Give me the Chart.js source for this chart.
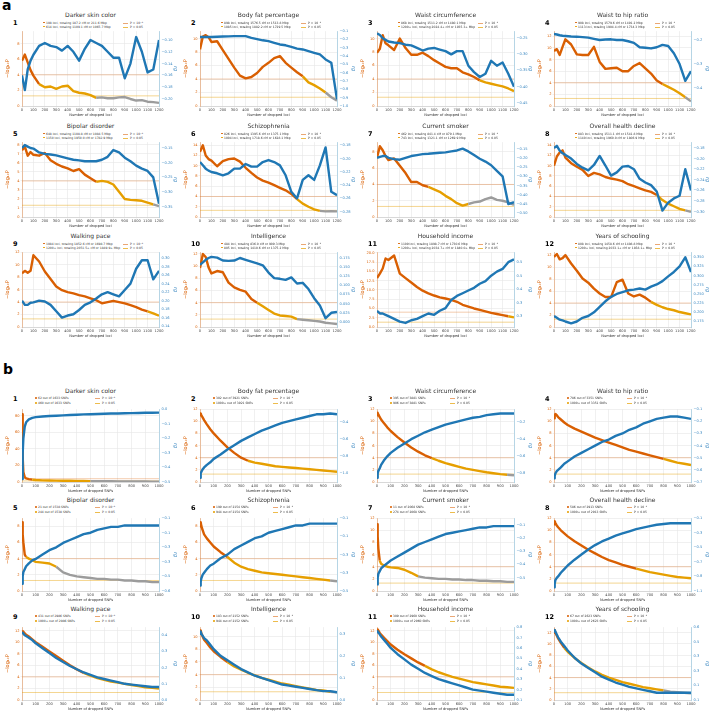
<!DOCTYPE html>
<html>
<head>
<title>Dropped loci / SNPs</title>
<script src="https://cdn.jsdelivr.net/npm/chart.js"></script>
<style>
  body { margin: 0; width: 711px; height: 715px; background: #fff; position: relative; overflow: hidden;
         font-family: "DejaVu Sans", sans-serif; color: #333; }
  div { position: absolute; white-space: nowrap; }
  .big { font-weight: bold; font-size: 14px; color: #000; }
  .num { font-weight: bold; font-size: 6.5px; color: #000; line-height: 7px; }
  .ttl { font-size: 6px; line-height: 6px; text-align: center; color: #333; }
  .leg { font-size: 3px; line-height: 4px; color: #333; }
  .dot { width: 1.8px; height: 1.8px; border-radius: 50%; }
  .ln { width: 5px; height: 0; }
  canvas { position: absolute; }
</style>
</head>
<body>
<div class="big" style="left:2px;top:-3px">a</div>
<div class="big" style="left:3px;top:361px">b</div>
<script>
const xLoci = [0,25,50,75,100,150,200,250,300,350,400,450,500,550,600,650,700,750,800,850,900,950,1000,1050,1100,1150,1200];
const xSnps = [0,5,10,20,30,50,75,100,150,200,250,300,350,400,450,500,550,600,650,700,750,800,850,900,950,1000];

const titles = ['Darker skin color','Body fat percentage','Waist circumference','Waist to hip ratio',
  'Bipolar disorder','Schizophrenia','Current smoker','Overall health decline',
  'Walking pace','Intelligence','Household income','Years of schooling'];

// ---- a: dropped loci, -log10 P ----
const a1P = [5.8,6.6,5.6,4.6,3.9,2.8,2.4,2.5,2.2,2.5,2.6,1.9,1.7,1.6,1.4,1.05,1.1,1.0,1.0,1.1,1.15,0.9,0.7,0.75,0.55,0.5,0.4];
const a2P = [8.4,10.3,10.5,10.2,9.5,9.6,8.3,7.0,5.7,4.5,4.1,4.3,4.9,5.8,6.4,7.1,7.4,6.4,5.7,5.0,4.4,3.5,3.1,2.6,2.0,1.3,0.8];
const a3P = [7.9,8.5,10.5,9.3,9.0,8.3,10.0,8.6,7.6,7.6,7.9,7.4,6.8,6.3,5.8,5.6,5.6,5.0,4.7,4.3,3.8,3.5,3.3,3.1,2.9,2.6,2.2];
const a4P = [9.5,9.8,8.8,10.2,11.5,10.6,8.9,8.8,8.8,10.2,7.6,6.4,6.5,6.6,6.0,6.0,6.9,7.4,6.5,5.6,4.4,3.8,3.3,2.8,2.2,1.5,0.8];
const a5P = [7.4,7.8,6.8,7.2,6.9,6.8,7.1,6.3,5.9,5.6,5.4,5.1,5.3,4.7,4.3,3.9,4.0,3.9,3.6,2.8,2.0,1.9,1.85,1.8,1.6,1.4,1.2];
const a6P = [12.7,14.0,12.0,11.3,11.0,9.9,10.9,11.3,11.4,10.8,9.6,8.6,7.7,7.1,6.7,6.2,5.7,5.2,4.5,3.5,2.6,2.0,1.5,1.2,1.1,1.15,1.1];
const a7P = [7.3,8.7,8.2,7.5,7.0,7.2,6.3,5.4,4.3,4.3,3.9,3.7,3.4,3.1,2.6,2.2,1.7,1.4,1.6,1.8,1.9,2.2,2.4,2.1,2.0,1.8,1.5];
const a8P = [10.0,11.8,12.6,13.0,11.6,10.5,9.8,9.2,8.0,8.6,8.3,7.8,7.5,7.3,7.0,6.4,6.0,5.6,5.2,4.9,4.3,3.3,2.6,2.1,1.6,1.3,1.0];
const a9P = [8.6,9.0,8.7,9.0,11.5,10.5,8.9,7.7,6.5,5.9,5.6,5.4,5.1,4.9,4.6,4.3,3.8,4.0,4.2,4.0,3.8,3.5,3.2,2.8,2.5,2.2,1.8];
const a10P = [9.7,12.0,11.5,9.8,8.8,9.2,9.0,7.3,6.5,6.1,5.8,4.6,4.0,3.4,2.8,2.2,1.9,1.8,1.7,1.3,1.2,1.1,1.0,0.9,0.7,0.6,0.5];
const a11P = [13.2,14.4,15.8,18.5,18.1,19.3,14.4,13.2,12.0,10.8,9.8,9.1,8.5,8.0,7.7,7.3,6.8,6.0,5.5,5.0,4.6,4.2,3.8,3.5,3.2,2.9,2.6];
const a12P = [11.7,12.2,11.3,11.5,12.0,10.6,9.4,8.1,7.4,6.4,5.6,5.0,5.0,7.5,7.9,5.6,5.1,5.4,4.9,4.2,3.7,3.3,3.0,2.8,2.5,2.3,2.1];

// ---- a: dropped loci, genetic correlation r_g ----
const a1R = [-0.16,-0.185,-0.15,-0.135,-0.125,-0.11,-0.105,-0.11,-0.112,-0.118,-0.11,-0.12,-0.135,-0.115,-0.10,-0.105,-0.11,-0.12,-0.13,-0.13,-0.165,-0.14,-0.095,-0.12,-0.155,-0.15,-0.10];
const a2R = [-0.15,-0.15,-0.15,-0.15,-0.15,-0.148,-0.145,-0.143,-0.14,-0.14,-0.14,-0.16,-0.175,-0.19,-0.2,-0.22,-0.24,-0.25,-0.27,-0.29,-0.3,-0.32,-0.34,-0.36,-0.42,-0.46,-0.9];
const a3R = [-0.235,-0.24,-0.25,-0.255,-0.26,-0.263,-0.265,-0.27,-0.272,-0.28,-0.288,-0.282,-0.28,-0.285,-0.29,-0.3,-0.29,-0.29,-0.335,-0.355,-0.37,-0.36,-0.32,-0.335,-0.325,-0.36,-0.40];
const a4R = [-0.175,-0.177,-0.18,-0.182,-0.183,-0.185,-0.186,-0.188,-0.19,-0.195,-0.2,-0.198,-0.197,-0.2,-0.2,-0.205,-0.212,-0.23,-0.232,-0.235,-0.23,-0.22,-0.225,-0.255,-0.3,-0.37,-0.33];
const a5R = [-0.15,-0.14,-0.145,-0.15,-0.152,-0.165,-0.17,-0.172,-0.175,-0.18,-0.185,-0.19,-0.192,-0.195,-0.195,-0.195,-0.19,-0.18,-0.157,-0.165,-0.183,-0.195,-0.21,-0.22,-0.228,-0.25,-0.34];
const a6R = [-0.205,-0.21,-0.215,-0.218,-0.22,-0.222,-0.225,-0.222,-0.215,-0.215,-0.208,-0.212,-0.212,-0.205,-0.202,-0.205,-0.21,-0.225,-0.25,-0.26,-0.232,-0.225,-0.232,-0.21,-0.183,-0.25,-0.255];
const a7R = [-0.2,-0.195,-0.19,-0.19,-0.2,-0.207,-0.21,-0.2,-0.19,-0.185,-0.18,-0.178,-0.175,-0.172,-0.17,-0.165,-0.16,-0.15,-0.165,-0.185,-0.205,-0.22,-0.24,-0.27,-0.3,-0.45,-0.44];
const a8R = [-0.18,-0.176,-0.185,-0.19,-0.193,-0.2,-0.21,-0.217,-0.222,-0.212,-0.195,-0.213,-0.232,-0.226,-0.215,-0.214,-0.22,-0.238,-0.245,-0.25,-0.262,-0.298,-0.283,-0.275,-0.27,-0.22,-0.26];
const a9R = [0.20,0.19,0.19,0.195,0.196,0.2,0.198,0.19,0.175,0.16,0.165,0.168,0.178,0.19,0.196,0.205,0.215,0.22,0.215,0.21,0.225,0.24,0.275,0.295,0.295,0.25,0.27];
const a10R = [0.156,0.163,0.17,0.175,0.178,0.176,0.168,0.167,0.168,0.175,0.17,0.165,0.16,0.155,0.135,0.12,0.118,0.115,0.122,0.105,0.107,0.09,0.065,0.045,0.01,0.025,0.027];
const a11R = [0.32,0.31,0.31,0.305,0.30,0.29,0.28,0.275,0.285,0.29,0.30,0.31,0.305,0.32,0.33,0.36,0.375,0.385,0.395,0.405,0.42,0.43,0.45,0.465,0.475,0.5,0.51];
const a12R = [0.19,0.185,0.18,0.178,0.175,0.17,0.175,0.185,0.19,0.2,0.215,0.23,0.242,0.25,0.255,0.26,0.262,0.265,0.262,0.27,0.276,0.285,0.298,0.31,0.325,0.35,0.31];

// ---- b: dropped SNPs, -log10 P ----
const b1P = [82,30,12,6,4.5,3.5,2.8,2.4,2.0,1.8,1.7,1.6,1.5,1.4,1.3,1.1,1.0,0.9,0.9,0.8,0.7,0.7,0.6,0.6,0.5,0.5];
const b2P = [11,11.3,11,10.6,10.2,9.5,8.7,8.0,6.8,5.7,4.8,4.0,3.5,3.2,3.0,2.8,2.6,2.5,2.4,2.3,2.2,2.1,2.0,1.9,1.8,1.7];
const b3P = [11,11.4,11.1,10.7,10.3,9.7,9.0,8.4,7.4,6.5,5.7,5.0,4.4,3.95,3.5,3.1,2.8,2.5,2.2,2.0,1.8,1.6,1.45,1.3,1.2,1.1];
const b4P = [10.5,11,11.2,11,10.7,10.3,9.8,9.4,8.8,8.3,7.8,7.3,6.9,6.5,6.1,5.7,5.3,5.0,4.7,4.4,4.1,3.8,3.5,3.2,3.0,2.8];
const b5P = [8.5,7,6,4.5,4.2,4.0,3.8,3.6,3.5,3.4,3.0,2.3,2.0,1.8,1.7,1.6,1.5,1.5,1.4,1.4,1.3,1.3,1.2,1.2,1.1,1.1];
const b6P = [8,8.5,8,7.5,7,6.5,6,5.5,4.8,4.2,3.5,3.0,2.7,2.5,2.3,2.2,2.1,2.0,1.9,1.8,1.7,1.6,1.5,1.4,1.3,1.2];
const b7P = [11,9,7,5,4.5,4.2,4.0,3.9,3.8,3.5,3.0,2.4,2.2,2.1,2.0,2.0,1.9,1.9,1.8,1.8,1.7,1.7,1.6,1.6,1.5,1.5];
const b8P = [11,11.5,11.2,10.8,10.5,10,9.5,9,8.2,7.5,6.8,6.2,5.6,5.1,4.7,4.3,4.0,3.7,3.4,3.1,2.9,2.7,2.5,2.3,2.2,2.1];
const b9P = [12,12,11.8,11.5,11.3,11,10.5,10,9.2,8.4,7.6,6.8,6.0,5.3,4.7,4.2,3.8,3.5,3.2,3.0,2.8,2.6,2.4,2.2,2.1,2.0];
const b10P = [10.5,11,10.5,10,9.5,9,8.3,7.7,6.8,6.0,5.3,4.8,4.3,3.9,3.5,3.2,2.9,2.6,2.4,2.2,2.0,1.8,1.6,1.5,1.3,1.2];
const b11P = [12,12.2,12,11.6,11.3,10.8,10.2,9.6,8.7,7.9,7.2,6.5,5.9,5.3,4.8,4.4,4.0,3.7,3.4,3.1,2.9,2.7,2.5,2.3,2.2,2.1];
const b12P = [12,12.5,12,11.5,11,10.2,9.3,8.6,7.5,6.6,5.8,5.1,4.5,4.0,3.6,3.2,2.9,2.6,2.3,2.1,1.9,1.7,1.5,1.4,1.3,1.2];

// ---- b: dropped SNPs, r_g ----
const b1R = [-0.48,-0.3,-0.2,-0.12,-0.09,-0.07,-0.06,-0.055,-0.05,-0.047,-0.045,-0.043,-0.04,-0.038,-0.036,-0.035,-0.033,-0.032,-0.03,-0.03,-0.028,-0.027,-0.026,-0.025,-0.025,-0.024];
const b2R = [-1.05,-1.0,-0.98,-0.95,-0.93,-0.9,-0.87,-0.83,-0.78,-0.72,-0.67,-0.62,-0.58,-0.54,-0.5,-0.47,-0.44,-0.41,-0.39,-0.37,-0.35,-0.33,-0.31,-0.31,-0.3,-0.31];
const b3R = [-0.85,-0.8,-0.77,-0.74,-0.7,-0.65,-0.6,-0.56,-0.5,-0.45,-0.4,-0.36,-0.32,-0.29,-0.26,-0.23,-0.21,-0.19,-0.17,-0.15,-0.14,-0.12,-0.11,-0.1,-0.1,-0.1];
const b4R = [-0.62,-0.6,-0.58,-0.56,-0.55,-0.53,-0.5,-0.48,-0.44,-0.41,-0.38,-0.35,-0.32,-0.3,-0.27,-0.25,-0.22,-0.2,-0.17,-0.15,-0.13,-0.12,-0.11,-0.11,-0.12,-0.13];
const b5R = [-0.5,-0.45,-0.42,-0.4,-0.38,-0.36,-0.34,-0.33,-0.3,-0.27,-0.25,-0.22,-0.2,-0.18,-0.16,-0.15,-0.13,-0.12,-0.11,-0.11,-0.1,-0.1,-0.1,-0.1,-0.1,-0.1];
const b6R = [-0.42,-0.4,-0.38,-0.36,-0.35,-0.33,-0.31,-0.3,-0.27,-0.25,-0.22,-0.2,-0.18,-0.16,-0.15,-0.13,-0.12,-0.11,-0.1,-0.09,-0.09,-0.08,-0.08,-0.08,-0.08,-0.08];
const b7R = [-0.55,-0.5,-0.47,-0.45,-0.43,-0.41,-0.39,-0.37,-0.34,-0.31,-0.28,-0.25,-0.23,-0.21,-0.19,-0.17,-0.16,-0.15,-0.14,-0.13,-0.12,-0.12,-0.11,-0.11,-0.11,-0.11];
const b8R = [-1.0,-0.95,-0.9,-0.87,-0.85,-0.8,-0.75,-0.7,-0.62,-0.55,-0.48,-0.42,-0.37,-0.33,-0.29,-0.26,-0.23,-0.2,-0.18,-0.16,-0.14,-0.13,-0.12,-0.12,-0.12,-0.12];
const b9R = [0.42,0.42,0.41,0.40,0.395,0.385,0.37,0.35,0.32,0.29,0.26,0.235,0.21,0.19,0.17,0.155,0.14,0.13,0.12,0.11,0.1,0.095,0.09,0.085,0.08,0.08];
const b10R = [0.3,0.31,0.3,0.29,0.28,0.27,0.25,0.23,0.2,0.18,0.16,0.14,0.125,0.11,0.1,0.09,0.08,0.07,0.065,0.06,0.055,0.05,0.045,0.04,0.04,0.035];
const b11R = [0.75,0.76,0.75,0.73,0.71,0.68,0.64,0.6,0.54,0.49,0.44,0.4,0.36,0.33,0.3,0.28,0.26,0.24,0.22,0.2,0.19,0.18,0.17,0.16,0.15,0.15];
const b12R = [0.52,0.53,0.52,0.5,0.48,0.45,0.42,0.39,0.34,0.3,0.27,0.24,0.21,0.19,0.17,0.155,0.14,0.13,0.12,0.11,0.1,0.1,0.1,0.1,0.1,0.1];

// where the colour changes: first count past P threshold, first count past P = 0.05
const cutsA = [[108,614],[898,1085],[868,1201],[908,1113],[648,1150],[826,1004],[410,765],[883,1140],[1084,1201],[484,805],[1109,1201],[808,1201]];
const cutsB = [[62,460],[302,1001],[395,906],[786,1001],[21,244],[199,944],[11,274],[586,1001],[431,1001],[183,944],[309,1001],[67,760]];

const legA = [
  ['108 loci, totaling 187.2 cM or 211.6 Mbp','614 loci, totaling 1109.1 cM or 1065.7 Mbp'],
  ['898 loci, totaling 1576.5 cM or 1513.8 Mbp','1085 loci, totaling 1882.2 cM or 1729.5 Mbp'],
  ['868 loci, totaling 1511.2 cM or 1480.1 Mbp','1200+ loci, totaling 2024.4+ cM or 1935.3+ Mbp'],
  ['908 loci, totaling 1579.6 cM or 1491.2 Mbp','1113 loci, totaling 1904.4 cM or 1734.3 Mbp'],
  ['648 loci, totaling 1108.8 cM or 1084.5 Mbp','1150 loci, totaling 1950.0 cM or 1782.9 Mbp'],
  ['826 loci, totaling 1395.6 cM or 1375.1 Mbp','1004 loci, totaling 1718.6 cM or 1628.1 Mbp'],
  ['462 loci, totaling 841.4 cM or 879.1 Mbp','743 loci, totaling 1321.1 cM or 1269.9 Mbp'],
  ['883 loci, totaling 1511.1 cM or 1541.8 Mbp','1140 loci, totaling 1960.0 cM or 1806.9 Mbp'],
  ['1084 loci, totaling 1852.6 cM or 1698.7 Mbp','1200+ loci, totaling 2051.5+ cM or 1849.9+ Mbp'],
  ['484 loci, totaling 836.0 cM or 909.3 Mbp','805 loci, totaling 1410.6 cM or 1375.2 Mbp'],
  ['1109 loci, totaling 1898.7 cM or 1730.6 Mbp','1200+ loci, totaling 2034.7+ cM or 1840.0+ Mbp'],
  ['808 loci, totaling 1458.6 cM or 1408.8 Mbp','1200+ loci, totaling 2033.1+ cM or 1858.1+ Mbp']
];
const legB = [
  ['62 out of 1633 SNPs','460 out of 1633 SNPs'],['302 out of 3921 SNPs','1000+ out of 3921 SNPs'],
  ['395 out of 3881 SNPs','906 out of 3881 SNPs'],['786 out of 3351 SNPs','1000+ out of 3351 SNPs'],
  ['21 out of 1538 SNPs','244 out of 1538 SNPs'],['199 out of 2154 SNPs','944 out of 2154 SNPs'],
  ['11 out of 2068 SNPs','274 out of 2068 SNPs'],['586 out of 2913 SNPs','1000+ out of 2913 SNPs'],
  ['431 out of 2986 SNPs','1000+ out of 2986 SNPs'],['183 out of 2152 SNPs','944 out of 2152 SNPs'],
  ['309 out of 2960 SNPs','1000+ out of 2960 SNPs'],['67 out of 2623 SNPs','1000+ out of 2623 SNPs']
];

const thrLines = [4, 1.3];   // -log10 of P = 1e-4 and P = 0.05

// axis ranges per panel: [left max, left step, right min, right max, right step, right decimals]
const axA = [[9.6,2,-0.212,-0.085,0.02,2],[11.1,2,-0.98,-0.08,0.1,1],[11.1,2,-0.46,-0.228,0.05,2],[12.9,2,-0.475,-0.163,0.1,1],
  [8.3,1,-0.385,-0.13,0.05,2],[14.6,2,-0.288,-0.175,0.02,2],[9.2,2,-0.52,-0.115,0.05,2],[14.6,2,-0.31,-0.169,0.02,2],
  [12,2,0.138,0.314,0.02,2],[12.3,2,-0.014,0.191,0.025,3],[20.2,2.5,0.26,0.537,0.05,1],[12.5,2,0.16,0.364,0.025,3]];
const axB = [[88,20,-0.5,0.0,0.1,1],[12,2,-1.1,-0.25,0.2,1],[12,2,-0.9,-0.05,0.2,1],[12,2,-0.65,-0.05,0.1,1],
  [9,2,-0.55,-0.05,0.1,1],[9,2,-0.45,-0.05,0.1,1],[12,2,-0.6,-0.05,0.1,1],[12,2,-1.05,-0.05,0.2,1],
  [12.6,2,0.0,0.45,0.1,1],[11.5,2,0.0,0.33,0.1,1],[12.6,2,0.1,0.8,0.1,1],[13,2,0.05,0.55,0.1,1]];

const seriesA = [[a1P,a1R],[a2P,a2R],[a3P,a3R],[a4P,a4R],[a5P,a5R],[a6P,a6R],[a7P,a7R],[a8P,a8R],[a9P,a9R],[a10P,a10R],[a11P,a11R],[a12P,a12R]];
const seriesB = [[b1P,b1R],[b2P,b2R],[b3P,b3R],[b4P,b4R],[b5P,b5R],[b6P,b6R],[b7P,b7R],[b8P,b8R],[b9P,b9R],[b10P,b10R],[b11P,b11R],[b12P,b12R]];

// colours and layout
const ORANGE = '#d95f02', AMBER = '#e69f00', GREY = '#9c9c9c', BLUE = '#1f77b4';
const colLeft = [22, 200, 377, 554];
const PW = 137;
const sections = {
  a: { tops: [31, 142, 252], h: 75, xmax: 1200, xlabel: 'Number of dropped loci', titleOff: 19, legRows: [-8.5, -4.5], dotX: 21, lineX: 101, numOff: 8 },
  b: { tops: [409, 518, 627], h: 73, xmax: 1000, xlabel: 'Number of dropped SNPs', titleOff: 21, legRows: [-11, -6], dotX: 13, lineX: 73, numOff: 10 }
};

Chart.defaults.font.family = '"DejaVu Sans", sans-serif';

function addDiv(cls, text, x, y, style) {
  const d = document.createElement('div');
  d.className = cls;
  if (text) d.textContent = text;
  d.style.left = x + 'px';
  d.style.top = y + 'px';
  if (style) Object.assign(d.style, style);
  document.body.appendChild(d);
  return d;
}

function fmt(v, dec) { return v.toFixed(dec).replace('-', '\u2212'); }

function drawPanel(secKey, i, xs, P, R, cuts, ax, leg) {
  const s = sections[secKey];
  const left = colLeft[i % 4];
  const top = s.tops[Math.floor(i / 4)];

  // number, title, legend
  addDiv('num', String(i + 1), left - 9, top - s.numOff - 3.5);
  addDiv('ttl', titles[i], left, top - s.titleOff, { width: PW + 'px' });
  const pText = ['P = 10\u207B\u2074', 'P = 0.05'];
  const ptCol = ['rgba(217,95,2,0.55)', 'rgba(230,159,0,0.7)'];
  for (let r = 0; r < 2; r++) {
    const y = top + s.legRows[r];
    addDiv('dot', '', left + s.dotX, y - 0.9, { background: r === 0 ? ORANGE : AMBER });
    addDiv('leg', leg[r], left + s.dotX + 3, y - 2);
    addDiv('ln', '', left + s.lineX, y, { borderTop: '0.7px dashed ' + ptCol[r] });
    addDiv('leg', pText[r], left + s.lineX + 7, y - 2);
  }

  const cv = document.createElement('canvas');
  const W = 20 + PW + 24, H = 3 + s.h + 11;
  cv.width = W; cv.height = H;
  cv.style.left = (left - 20) + 'px';
  cv.style.top = (top - 3) + 'px';
  document.body.appendChild(cv);

  const cut1 = cuts[0], cut2 = cuts[1];
  const tickFont = { size: 3.6 };
  new Chart(cv, {
    type: 'line',
    data: {
      datasets: [
        { data: xs.map((x, k) => ({ x: x, y: R[k] })), yAxisID: 'y1', borderColor: BLUE,
          borderWidth: 2.4, pointRadius: 0, borderJoinStyle: 'round', order: 1 },
        { data: xs.map((x, k) => ({ x: x, y: P[k] })), yAxisID: 'y', borderColor: ORANGE,
          borderWidth: 2.4, pointRadius: 0, borderJoinStyle: 'round', order: 2,
          segment: { borderColor: c => c.p0.parsed.x < cut1 ? ORANGE : (c.p0.parsed.x < cut2 ? AMBER : GREY) } },
        { data: [{ x: 0, y: thrLines[0] }, { x: s.xmax, y: thrLines[0] }], yAxisID: 'y',
          borderColor: 'rgba(217,95,2,0.4)', borderWidth: 0.8, pointRadius: 0, order: 3 },
        { data: [{ x: 0, y: thrLines[1] }, { x: s.xmax, y: thrLines[1] }], yAxisID: 'y',
          borderColor: 'rgba(230,159,0,0.55)', borderWidth: 0.8, pointRadius: 0, order: 3 }
      ]
    },
    options: {
      responsive: false, animation: false, devicePixelRatio: 1,
      layout: { padding: { top: 3, left: 0, right: 0, bottom: 0 } },
      plugins: { legend: { display: false }, tooltip: { enabled: false } },
      scales: {
        x: {
          type: 'linear', min: 0, max: s.xmax,
          ticks: { stepSize: 100, font: tickFont, color: '#444', padding: 0.5, maxRotation: 0, minRotation: 0,
                   autoSkip: false, includeBounds: false, callback: v => String(v) },
          grid: { color: '#e6e6e6', lineWidth: 0.6, tickLength: 1.5 },
          border: { color: '#c8c8c8', width: 0.6 },
          title: { display: true, text: s.xlabel, font: { size: 3.6 }, color: '#333', padding: 0 },
          afterFit: sc => { sc.height = 11; }
        },
        y: {
          position: 'left', min: 0, max: ax[0],
          ticks: { stepSize: ax[1], font: tickFont, color: ORANGE, padding: 1, includeBounds: false,
                   callback: v => fmt(v, ax[1] % 1 ? 1 : 0) },
          grid: { color: '#e6e6e6', lineWidth: 0.6, tickLength: 1.5 },
          border: { color: 'rgba(217,95,2,0.5)', width: 0.7 },
          title: { display: true, text: '\u2212log\u2081\u2080P', font: { size: 5 }, color: ORANGE, padding: { top: 3, bottom: 0 } },
          afterFit: sc => { sc.width = 20; }
        },
        y1: {
          position: 'right', min: ax[2], max: ax[3],
          ticks: { stepSize: ax[4], font: tickFont, color: '#3a87c0', padding: 1, includeBounds: false,
                   callback: v => fmt(v, ax[5]) },
          grid: { display: false, tickLength: 1.5 },
          border: { color: '#9ecae1', width: 0.7 },
          title: { display: true, text: 'rg', font: { size: 5, style: 'italic' }, color: '#3a87c0', padding: { top: 5, bottom: 0 } },
          afterFit: sc => { sc.width = 24; }
        }
      }
    }
  });
}

for (let i = 0; i < 12; i++) {
  drawPanel('a', i, xLoci, seriesA[i][0], seriesA[i][1], cutsA[i], axA[i], legA[i]);
  drawPanel('b', i, xSnps, seriesB[i][0], seriesB[i][1], cutsB[i], axB[i], legB[i]);
}
</script>
</body>
</html>
